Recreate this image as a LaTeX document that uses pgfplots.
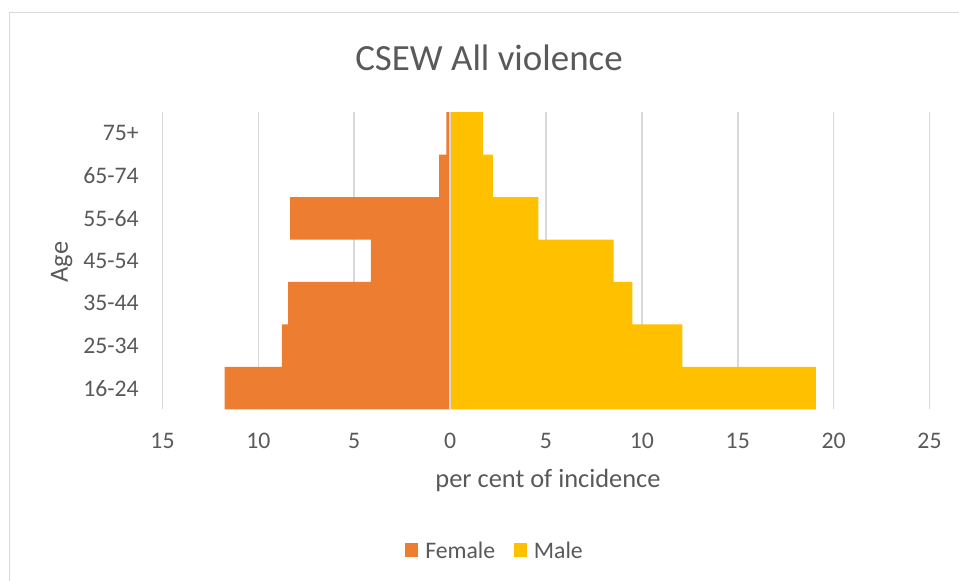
\documentclass[border=0pt]{standalone}
\usepackage{pgfplots}
\pgfplotsset{compat=1.18}
\usepackage{fontspec}
\setmainfont{Carlito}

\definecolor{female}{HTML}{ED7D31}
\definecolor{male}{HTML}{FFC000}
\definecolor{txt}{HTML}{595959}
\definecolor{gridc}{HTML}{D9D9D9}

\begin{document}
\begin{tikzpicture}
\path[use as bounding box] (0,0) rectangle (719.25pt,435.75pt);
\draw[gridc, line width=1pt] (7.1pt,-2pt) -- (7.1pt,426.4pt) -- (722pt,426.4pt);

\node[txt, font=\fontsize{27.7}{32}\selectfont, anchor=base] at (366.75pt,382.5pt) {CSEW All violence};
\node[txt, font=\fontsize{19.8}{23}\selectfont, rotate=90] at (46.3pt,239.25pt) {Age};
\node[txt, font=\fontsize{19.8}{23}\selectfont, anchor=base] at (411pt,69.75pt) {per cent of incidence};

\begin{axis}[
    at={(121.875pt,128.625pt)}, anchor=south west,
    scale only axis,
    width=575.25pt, height=223.125pt,
    xbar, bar shift=0pt, bar width=1,
    xmin=-15, xmax=25,
    ymin=-0.5, ymax=6.5,
    xtick={-15,-10,...,25},
    xticklabels={15,10,5,0,5,10,15,20,25},
    ytick={0,...,6},
    yticklabels={16-24,25-34,35-44,45-54,55-64,65-74,75+},
    axis line style={draw=none},
    major tick length=0pt,
    xmajorgrids,
    grid style={gridc, line width=1.2pt},
    /pgf/number format/assume math mode=true,
    ticklabel style={txt, font=\fontsize{17.8}{21}\selectfont},
    xticklabel style={anchor=base, yshift=-29.6pt},
    yticklabel style={anchor=east, xshift=-14.3pt},
    legend style={at={(0.434,-0.4756)}, anchor=center, draw=none,
        legend columns=2, font=\fontsize{17.8}{21}\selectfont, text=txt,
        /tikz/every odd column/.append style={column sep=3.5pt},
        /tikz/every even column/.append style={column sep=12pt}},
    legend image code/.code={\fill[#1] (0pt,-4.5pt) rectangle (9.5pt,6pt);},
]
\addplot[draw=none, fill=female] coordinates {
    (-11.76,0) (-8.78,1) (-8.45,2) (-4.13,3) (-8.34,4) (-0.58,5) (-0.19,6)};
\addlegendentry{Female}
\addplot[draw=none, fill=male] coordinates {
    (19.07,0) (12.11,1) (9.50,2) (8.53,3) (4.60,4) (2.23,5) (1.71,6)};
\addlegendentry{Male}
\draw[gridc, line width=1.2pt] (axis cs:0,-0.5) -- (axis cs:0,6.5);
\end{axis}
\end{tikzpicture}
\end{document}
